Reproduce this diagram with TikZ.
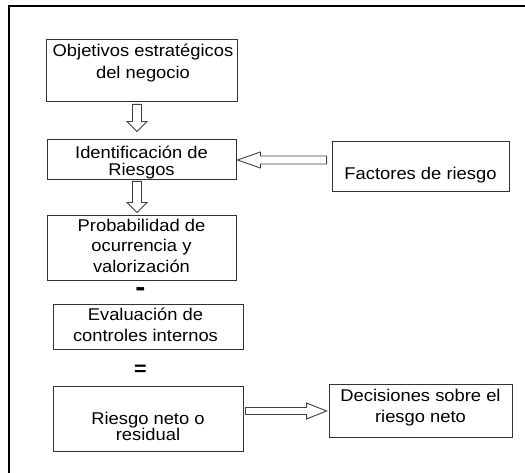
\documentclass[tikz,border=0pt]{standalone}
\usepackage{fontspec}
\setmainfont[FakeStretch=1.08]{Liberation Sans}
\usetikzlibrary{calc}

\tikzset{
  caja/.style={draw=black!80, line width=0.9pt, fill=white, inner sep=0pt},
  texto/.style={align=center, inner sep=0pt, anchor=north, font=\fontsize{17}{#1}\selectfont},
  texto/.default=21,
  flecha/.style={draw=black!75, line width=0.9pt, fill=white, line join=miter},
  signo/.style={inner sep=0pt, text height=10pt, text depth=0pt, font=\fontsize{#1}{#1}\selectfont\bfseries},
}

% hollow block arrows
\newcommand{\flechaabajo}[2]{%
  \draw[flecha] let \p1=(#1), \p2=(#2) in
    (\x1-4.5pt,\y1) -- (\x1-4.5pt,\y2+10pt) -- (\x1-10pt,\y2+10pt) -- (\x1,\y2)
    -- (\x1+10pt,\y2+10pt) -- (\x1+4.5pt,\y2+10pt) -- (\x1+4.5pt,\y1) -- cycle;}
\newcommand{\flechaizq}[2]{%
  \draw[flecha] let \p1=(#1), \p2=(#2) in
    (\x1,\y1+4pt) -- (\x2+23pt,\y1+4pt) -- (\x2+23pt,\y1+8pt) -- (\x2,\y1)
    -- (\x2+23pt,\y1-8pt) -- (\x2+23pt,\y1-4pt) -- (\x1,\y1-4pt) -- cycle;}
\newcommand{\flechader}[2]{%
  \draw[flecha] let \p1=(#1), \p2=(#2) in
    (\x1,\y1+3.5pt) -- (\x2-20pt,\y1+3.5pt) -- (\x2-20pt,\y1+8pt) -- (\x2,\y1)
    -- (\x2-20pt,\y1-8pt) -- (\x2-20pt,\y1-3.5pt) -- (\x1,\y1-3.5pt) -- cycle;}

\begin{document}
\begin{tikzpicture}[x=1pt,y=-1pt]
  \fill[white] (0,0) rectangle (525,473);
  \useasboundingbox (0,0) rectangle (525,473);

  % outer frame
  \draw[line width=1.8pt] (9,473) -- (9,6) -- (525,6);

  % boxes
  \node[caja, minimum width=191pt, minimum height=62pt] (obj) at (141.5,70) {};
  \node[caja, minimum width=189pt, minimum height=40pt] (ident) at (141.5,159) {};
  \node[caja, minimum width=189pt, minimum height=65pt] (prob) at (141.5,247.5) {};
  \node[caja, minimum width=190pt, minimum height=45pt] (eval) at (148,326.5) {};
  \node[caja, minimum width=190pt, minimum height=65pt] (resid) at (148,418.5) {};
  \node[caja, minimum width=177pt, minimum height=50pt] (fact) at (420.5,166) {};
  \node[caja, minimum width=183pt, minimum height=53pt] (decis) at (420.5,410.5) {};

  % texts
  \node[texto=22] (objtxt) at ($(obj.north)+(1.5,5)$) {Objetivos estratégicos\\del negocio};
  \node[texto=17] (identtxt) at ($(ident.north)+(0,7)$) {Identificación de\\Riesgos};
  \node[texto=20.5] (probtxt) at ($(prob.north)+(0,4)$) {Probabilidad de\\ocurrencia y\\valorización};
  \node[texto] (evaltxt) at ($(eval.north)+(-2.5,4)$) {Evaluación de\\controles internos};
  \node[texto=16.5] (residtxt) at ($(resid.north)+(0,26)$) {Riesgo neto o\\residual};
  \node[texto] (facttxt) at ($(fact.north)+(0,26)$) {Factores de riesgo};
  \node[texto] (decistxt) at ($(decis.north)+(0,5)$) {Decisiones sobre el\\riesgo neto};

  % signs
  \node[signo=28] (menos) at (140.5,291.5) {-};
  \node[signo=20] (igual) at (140.5,370) {=};

  % arrows
  \coordinate (f1a) at ($(obj.south)+(-4.5,3)$);
  \coordinate (f1b) at ($(ident.north)+(-4.5,-7)$);
  \coordinate (f2a) at ($(ident.south)+(-4.5,2)$);
  \coordinate (f2b) at ($(prob.north)+(-4.5,-2)$);
  \coordinate (f3a) at ($(fact.west)+(-5,-6)$);
  \coordinate (f3b) at ($(ident.east)+(1,1)$);
  \coordinate (f4a) at ($(resid.east)+(2,-7.5)$);
  \coordinate (f4b) at ($(decis.west)+(-2,0)$);
  \flechaabajo{f1a}{f1b}
  \flechaabajo{f2a}{f2b}
  \flechaizq{f3a}{f3b}
  \flechader{f4a}{f4b}
\end{tikzpicture}
\end{document}
